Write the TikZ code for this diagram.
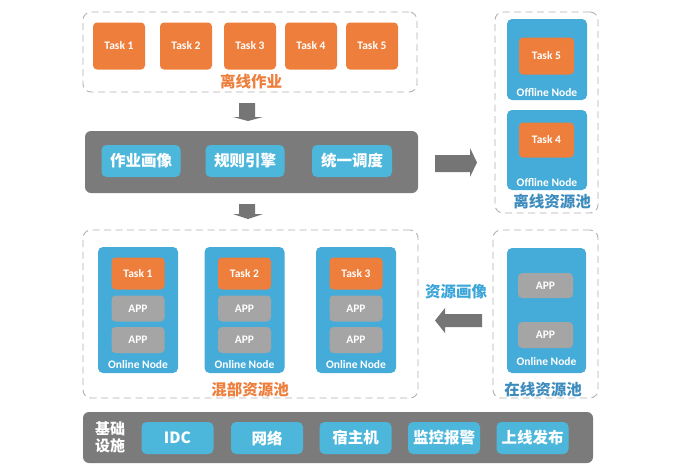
\documentclass[tikz,border=0pt]{standalone}
\usepackage{fontspec}
\setmainfont{Carlito}
\newfontfamily\cjk{Noto Sans CJK SC}
\begin{document}
\begin{tikzpicture}[x=1pt,y=-1pt,
  every node/.style={inner sep=0pt, align=center},
  dashbox/.style={draw=gray!60, dashed, dash pattern=on 7pt off 4.5pt, line width=0.9pt, rounded corners=8pt},
  taskbox/.style={fill=torange, rounded corners=4pt, text=white, font=\fontsize{11.5}{13}\selectfont\bfseries},
  appbox/.style={fill=tgray, rounded corners=4pt, text=white, font=\fontsize{11.5}{13}\selectfont\bfseries, minimum width=53pt, minimum height=26pt},
  nodebox/.style={fill=tblue, rounded corners=5pt},
  nodelabel/.style={text=white, font=\fontsize{11.5}{13}\selectfont\bfseries},
  barbox/.style={fill=tbar, rounded corners=6pt},
  innerbox/.style={fill=tlblue, rounded corners=5pt, text=white, font=\cjk\bfseries\fontsize{15.5}{17}\selectfont, minimum height=32pt},
  poolorange/.style={text=torange, font=\cjk\bfseries\fontsize{15.5}{17}\selectfont},
  poolblue/.style={text=tsteel, font=\cjk\bfseries\fontsize{15.5}{17}\selectfont},
  blockarrow/.style={fill=tarrow}
]
\definecolor{torange}{HTML}{EE7E3C}
\definecolor{tgray}{HTML}{A5A5A5}
\definecolor{tblue}{HTML}{45ABD9}
\definecolor{tlblue}{HTML}{4DB7DB}
\definecolor{tbar}{HTML}{7B7B7B}
\definecolor{tsteel}{HTML}{3D8CBD}
\definecolor{tsky}{HTML}{3AA5D8}
\definecolor{tarrow}{HTML}{757575}
\useasboundingbox[fill=white] (0,0) rectangle (678,466);

% ---- offline jobs
\node[dashbox, minimum width=334pt, minimum height=80pt] (offjobs) at (250,52) {};
\foreach \i/\x in {1/119,2/186,3/250,4/311,5/372}
  \node[taskbox, minimum width=52pt, minimum height=47pt] (t\i) at (\x,46) {Task \i};
\node[poolorange] (offjobslbl) at (251,82) {离线作业};

% ---- down arrow 1
\fill[blockarrow] (239,103) -- (255,103) -- (255,117) -- (263,117) -- (248,121) -- (233,117) -- (239,117) -- cycle;

% ---- scheduler bar
\node[barbox, minimum width=333pt, minimum height=62pt] (sched) at (251.5,162) {};
\node[innerbox, minimum width=79pt] (prof) at (141,161) {作业画像};
\node[innerbox, minimum width=79pt] (rule) at (245,161) {规则引擎};
\node[innerbox, minimum width=80pt] (unif) at (352,161) {统一调度};

% ---- right arrow
\fill[blockarrow] (435,155) -- (470,155) -- (470,148) -- (477,162.5) -- (470,177) -- (470,172) -- (435,172) -- cycle;

% ---- down arrow 2
\fill[blockarrow] (239,204) -- (255,204) -- (255,214) -- (263,214) -- (248,219) -- (233,214) -- (239,214) -- cycle;

% ---- offline pool
\node[dashbox, minimum width=103pt, minimum height=201pt] (offpool) at (546.5,112.5) {};
\node[nodebox, minimum width=80pt, minimum height=81pt] (on1) at (547,59.5) {};
\node[taskbox, minimum width=55pt, minimum height=37pt] (ot5) at (546.5,56) {Task 5};
\node[nodelabel] (on1lbl) at (547,93) {Offline Node};
\node[nodebox, minimum width=80pt, minimum height=80pt] (on2) at (547,150) {};
\node[taskbox, minimum width=55pt, minimum height=35pt] (ot4) at (546.5,140) {Task 4};
\node[nodelabel] (on2lbl) at (547,183) {Offline Node};
\node[poolblue] (offpoollbl) at (552,202) {离线资源池};

% ---- mixed pool
\node[dashbox, minimum width=335pt, minimum height=168pt] (mixpool) at (250.5,314) {};
\foreach \i/\x in {1/138,2/244.5,3/356}{
  \node[nodebox, minimum width=80pt, minimum height=126pt] (mn\i) at (\x,310) {};
  \node[taskbox, minimum width=53pt, minimum height=32pt] (mt\i) at (\x,273.5) {Task \i};
  \node[appbox] (ma\i) at (\x,308.5) {APP};
  \node[appbox] (mb\i) at (\x,340) {APP};
  \node[nodelabel] (mn\i lbl) at (\x,365) {Online Node};
}
\node[poolorange] (mixpoollbl) at (250,390) {混部资源池};

% ---- online pool
\node[dashbox, minimum width=105pt, minimum height=168pt] (onpool) at (545.5,314) {};
\node[nodebox, minimum width=79pt, minimum height=125pt] (onn) at (546.5,310.5) {};
\node[appbox, minimum width=55pt, minimum height=25pt] (oa1) at (545.5,285.5) {APP};
\node[appbox, minimum width=55pt, minimum height=26pt] (oa2) at (545.5,335) {APP};
\node[nodelabel] (onnlbl) at (546.5,362) {Online Node};
\node[poolblue] (onpoollbl) at (543,390) {在线资源池};

% ---- resource profile arrow
\node[text=tsky, font=\cjk\bfseries\fontsize{15.5}{17}\selectfont] (resprof) at (456,292) {资源画像};
\fill[blockarrow] (482,314) -- (445,314) -- (445,308) -- (435,320.5) -- (445,333) -- (445,327) -- (482,327) -- cycle;

% ---- infrastructure bar
\node[barbox, minimum width=510pt, minimum height=51pt] (infra) at (338,437.5) {};
\node[text=white, font=\cjk\bfseries\fontsize{15}{17}\selectfont] (infralbl) at (110,437) {基础\\设施};
\foreach \n/\x/\t in {idc/177.5/IDC, net/267/网络, host/355.5/宿主机, mon/444/监控报警, rel/532.5/上线发布}
  \node[innerbox, minimum width=72pt] (\n) at (\x,438) {\t};
\end{tikzpicture}
\end{document}
